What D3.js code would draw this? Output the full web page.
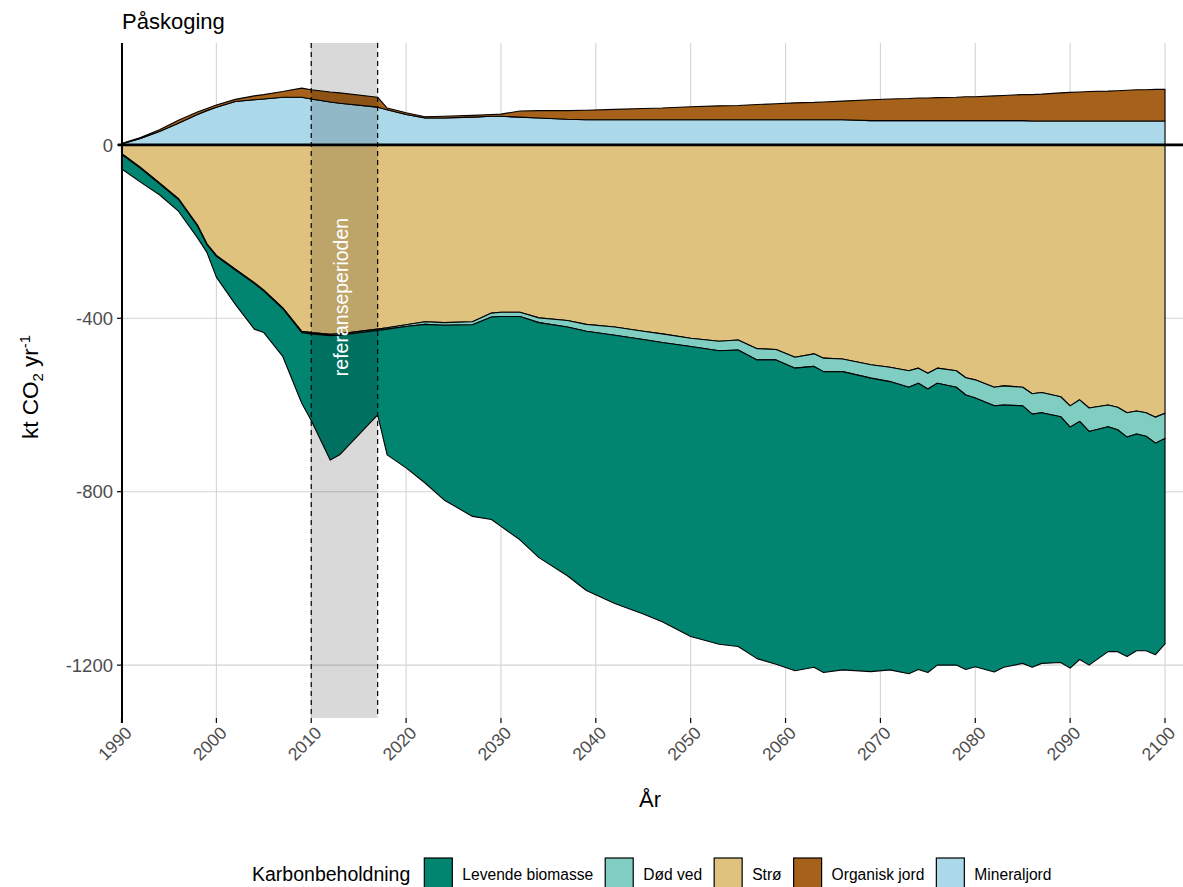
<!DOCTYPE html>
<html lang="no">
<head>
<meta charset="utf-8">
<title>Påskoging</title>
<script src="https://cdn.jsdelivr.net/npm/d3@7"></script>
<style>
  body { margin: 0; background: #fff; }
  svg { font-family: "Liberation Sans", Arial, sans-serif; }
</style>
</head>
<body>
<div id="chart"></div>
<script>
// år og verdier (kt CO2 per år), lest av figuren
const years = [1990,1992,1994,1996,1998,1999,2000,2002,2004,2005,2007,2009,2010,2012,2013,2017,2018,2020,2022,2024,
  2027,2029,2030,2032,2034,2037,2039,2042,2045,2047,2050,2053,2055,2057,2059,2061,2063,2064,2066,2069,
  2071,2073,2074,2075,2076,2078,2079,2080,2082,2083,2085,2086,2087,2089,2090,2091,2092,2094,2095,2096,
  2097,2098,2099,2100];
const stro = [-20,-52,-88,-124,-185,-228,-255,-287,-318,-335,-376,-430,-433,-437,-436,-425,-422,-415,-408,-410,
  -408,-388,-386,-386,-399,-405,-414,-420,-430,-436,-446,-453,-450,-470,-472,-490,-482,-492,-494,-507,
  -513,-521,-515,-527,-515,-521,-537,-542,-559,-556,-559,-574,-571,-581,-602,-588,-607,-600,-605,-618,
  -614,-618,-628,-619];
const dodVed = [-2,-2,-2,-2,-2,-2,-2,-2,-2,-2,-2,-3,-3,-3,-3,-3,-3,-4,-6,-6,
  -7,-9,-10,-10,-11,-15,-16,-19,-19,-20,-19,-22,-23,-26,-24,-25,-29,-31,-29,-31,
  -33,-38,-35,-36,-35,-38,-40,-42,-43,-44,-43,-47,-47,-46,-49,-50,-54,-50,-52,-56,
  -53,-54,-60,-58];
const levende = [-33,-32,-25,-27,-27,-18,-48,-79,-105,-96,-110,-163,-200,-287,-276,-195,-290,-326,-366,-403,
  -442,-467,-484,-515,-542,-574,-598,-619,-633,-644,-669,-677,-684,-689,-702,-698,-694,-694,-688,-677,
  -665,-661,-660,-654,-650,-641,-633,-620,-614,-605,-594,-584,-578,-567,-556,-549,-539,-519,-512,-506,
  -500,-495,-488,-474];
const organisk = [1,2,4,7,6,5,5,5,9,10,13,21,21,23,24,23,4,4,3,4,
  4,4,5,14,17,20,22,24,26,27,30,32,33,35,37,39,40,41,43,48,
  50,51,52,52,53,54,55,55,57,58,60,61,62,65,66,67,68,69,70,71,
  72,72,73,73];
const mineral = [2,15,31,50,70,79,87,100,104,106,110,110,106,99,96,87,81,70,62,62,
  64,66,66,64,62,59,58,58,58,58,58,58,58,58,58,58,58,58,58,56,
  56,56,56,56,56,56,56,56,56,56,56,55,55,55,55,55,55,55,55,55,
  55,55,55,55];

const categories = ["Levende biomasse", "Død ved", "Strø", "Organisk jord", "Mineraljord"];
const colors = ["#018571", "#80CDC1", "#DFC27D", "#A6611A", "#ABD9E9"];
const xTicks = d3.range(1990, 2101, 10);
const yTicks = [-1200, -800, -400, 0];
const refPeriod = [2010, 2017];

const W = 1183, H = 887;
const panel = {left: 122, right: 1183, top: 43, bottom: 718};

const svg = d3.select("#chart").append("svg")
  .attr("width", W).attr("height", H);

const x = d3.scaleLinear().domain([1990, 2100]).range([121.5, 1165]);
const y = d3.scaleLinear().domain([-1322, 235]).range([panel.bottom, panel.top]);

// tabell for stabling
const table = years.map((yr, i) => ({
  year: yr,
  "Mineraljord": mineral[i],
  "Organisk jord": organisk[i],
  "Strø": stro[i],
  "Død ved": dodVed[i],
  "Levende biomasse": levende[i]
}));
const stackKeys = ["Mineraljord", "Organisk jord", "Strø", "Død ved", "Levende biomasse"];
const series = d3.stack().keys(stackKeys).offset(d3.stackOffsetDiverging)(table);
const color = d3.scaleOrdinal().domain(categories).range(colors);

// gridlines
const grid = svg.append("g").attr("stroke", "#d4d4d4").attr("stroke-width", 1.1);
grid.selectAll("line.v").data(xTicks).join("line")
  .attr("x1", d => x(d)).attr("x2", d => x(d))
  .attr("y1", panel.top).attr("y2", panel.bottom);
grid.selectAll("line.h").data(yTicks).join("line")
  .attr("x1", panel.left).attr("x2", panel.right)
  .attr("y1", d => y(d)).attr("y2", d => y(d));

// areas
const area = d3.area()
  .x(d => x(d.data.year))
  .y0(d => y(d[0]))
  .y1(d => y(d[1]));

svg.append("g").selectAll("path").data(series).join("path")
  .attr("d", area)
  .attr("fill", d => color(d.key))
  .attr("stroke", "#000")
  .attr("stroke-width", 1.1)
  .attr("stroke-linejoin", "round");

// referanseperiode
svg.append("rect")
  .attr("x", x(refPeriod[0])).attr("width", x(refPeriod[1]) - x(refPeriod[0]))
  .attr("y", panel.top).attr("height", panel.bottom - panel.top)
  .attr("fill", "#000").attr("fill-opacity", 0.15);

svg.append("g").selectAll("line").data(refPeriod).join("line")
  .attr("x1", d => x(d)).attr("x2", d => x(d))
  .attr("y1", panel.top).attr("y2", panel.bottom)
  .attr("stroke", "#000").attr("stroke-width", 1.2)
  .attr("stroke-dasharray", "5,4");

// nullinje
svg.append("line")
  .attr("x1", panel.left - 4).attr("x2", panel.right)
  .attr("y1", y(0)).attr("y2", y(0))
  .attr("stroke", "#000").attr("stroke-width", 2.6);

svg.append("text")
  .attr("transform", `translate(${x(d3.mean(refPeriod)) + 4},297) rotate(-90)`)
  .attr("text-anchor", "middle")
  .attr("fill", "#fff")
  .attr("font-size", 19.5)
  .text("referanseperioden");

// y-akse
svg.append("line")
  .attr("x1", panel.left).attr("x2", panel.left)
  .attr("y1", panel.top).attr("y2", panel.bottom + 5)
  .attr("stroke", "#000").attr("stroke-width", 2);

const yAxis = svg.append("g");
yAxis.selectAll("line").data(yTicks).join("line")
  .attr("x1", panel.left - 5).attr("x2", panel.left)
  .attr("y1", d => y(d)).attr("y2", d => y(d))
  .attr("stroke", "#000").attr("stroke-width", 1.2);
yAxis.selectAll("text").data(yTicks).join("text")
  .attr("x", panel.left - 9)
  .attr("y", d => y(d))
  .attr("dy", "0.36em")
  .attr("text-anchor", "end")
  .attr("fill", "#4D4D4D")
  .attr("font-size", 18.5)
  .text(d => d);

// x-akse
const xAxis = svg.append("g");
xAxis.selectAll("line").data(xTicks).join("line")
  .attr("x1", d => x(d)).attr("x2", d => x(d))
  .attr("y1", panel.bottom).attr("y2", panel.bottom + 5)
  .attr("stroke", "#000").attr("stroke-width", 1.2);
xAxis.selectAll("text").data(xTicks).join("text")
  .attr("transform", d => `translate(${x(d) + 11.5},734) rotate(-45)`)
  .attr("text-anchor", "end")
  .attr("fill", "#4D4D4D")
  .attr("font-size", 17.5)
  .text(d => d);

// titler
svg.append("text")
  .attr("x", 122).attr("y", 29)
  .attr("font-size", 22)
  .attr("fill", "#000")
  .text("Påskoging");

svg.append("text")
  .attr("x", 650).attr("y", 807)
  .attr("text-anchor", "middle")
  .attr("font-size", 22)
  .text("År");

const yTitle = svg.append("text")
  .attr("transform", "translate(38,387) rotate(-90)")
  .attr("text-anchor", "middle")
  .attr("font-size", 22.5);
yTitle.append("tspan").text("kt CO");
yTitle.append("tspan").attr("font-size", 15).attr("dy", 5).text("2");
yTitle.append("tspan").attr("dy", -5).text(" yr");
yTitle.append("tspan").attr("font-size", 15).attr("dy", -8).text("-1");

// legende
const legend = svg.append("g");
let lx = 252;
const ly = 881;
const lt = legend.append("text")
  .attr("x", lx).attr("y", ly)
  .attr("font-size", 19.5)
  .text("Karbonbeholdning");
lx += lt.node().getComputedTextLength() + 14;
categories.forEach(c => {
  legend.append("rect")
    .attr("x", lx).attr("y", 858)
    .attr("width", 28).attr("height", 32)
    .attr("fill", color(c))
    .attr("stroke", "#000").attr("stroke-width", 1.2);
  lx += 28 + 10;
  const t = legend.append("text")
    .attr("x", lx).attr("y", ly - 1)
    .attr("font-size", 15.6)
    .text(c);
  lx += t.node().getComputedTextLength() + 12;
});
</script>
</body>
</html>
